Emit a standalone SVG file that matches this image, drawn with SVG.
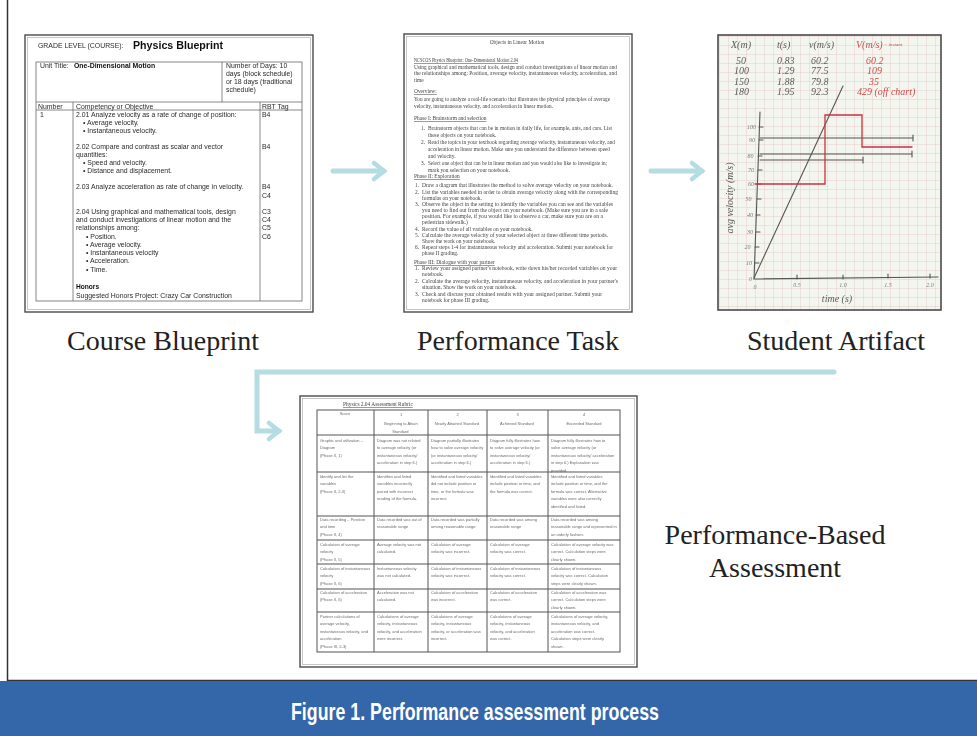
<svg xmlns="http://www.w3.org/2000/svg" width="977" height="736" viewBox="0 0 977 736">
  <style>
    .doc { fill: #ffffff; stroke: #4a4a4a; stroke-width: 1.4; }
    .docin { fill: none; stroke: #b8b8b8; stroke-width: 0.8; }
    .rule { fill: none; stroke: #6a6a6a; stroke-width: 0.8; }
    .rrule { fill: none; stroke: #555; stroke-width: 1; }
    .bp { font-family: "Liberation Sans", Arial, sans-serif; font-size: 6.9px; fill: #2a2a2a; }
    .bpb { font-family: "Liberation Sans", Arial, sans-serif; font-weight: bold; fill: #111; }
    .pt { font-family: "Liberation Serif", "Times New Roman", serif; font-size: 5.4px; fill: #444; }
    .ul { text-decoration: underline; }
    .rb { font-family: "Liberation Sans", Arial, sans-serif; font-size: 4px; fill: #6a6a6a; }
    .rbh { font-family: "Liberation Sans", Arial, sans-serif; font-size: 4px; fill: #6a6a6a; text-anchor: middle; }
    .cap { font-family: "Liberation Serif", "Times New Roman", serif; font-size: 28px; fill: #222; text-anchor: middle; }
    .hw { font-family: "Liberation Serif", serif; font-style: italic; font-size: 10px; fill: #5a5a5a; }
    .hwr { font-family: "Liberation Serif", serif; font-style: italic; font-size: 10px; fill: #d24a4a; }
    .ax { font-family: "Liberation Serif", serif; font-style: italic; font-size: 6px; fill: #7a7a7a; }
    .pen { fill: none; stroke: #555; stroke-width: 1.1; stroke-linecap: round; }
    .red { fill: none; stroke: #c8333c; stroke-width: 1.3; stroke-linecap: round; }
    .flow { fill: none; stroke: #b4dce2; stroke-width: 5; stroke-linecap: round; stroke-linejoin: miter; }
  </style>
  <defs>
    <marker id="head" markerUnits="userSpaceOnUse" markerWidth="24" markerHeight="24" viewBox="0 0 24 24" refX="15" refY="12" orient="auto">
      <path d="M5,4 L15,12 L5,20" fill="none" stroke="#b4dce2" stroke-width="4.5" stroke-linecap="round"/>
    </marker>
    <pattern id="grid" width="9" height="9" patternUnits="userSpaceOnUse" x="719" y="36">
      <rect width="9" height="9" fill="#f3f6ee"/>
      <path d="M0,0.3 H9 M0.3,0 V9" stroke="#e8cfcf" stroke-width="0.7"/>
    </pattern>
    <filter id="soft" x="-5%" y="-5%" width="110%" height="110%">
      <feGaussianBlur stdDeviation="0.3"/>
    </filter>
    <filter id="softer" x="-5%" y="-5%" width="110%" height="110%">
      <feGaussianBlur stdDeviation="0.45"/>
    </filter>
  </defs>

  <rect width="977" height="736" fill="#ffffff"/>
  <path d="M7.5,0 V680.5 H977" fill="none" stroke="#333" stroke-width="1.5"/>

  <!-- caption band -->
  <g id="caption">
    <rect x="0" y="681" width="977" height="55" fill="#3466aa"/>
    <text x="475" y="720" font-family="Liberation Sans, Arial, sans-serif" font-weight="bold" font-size="23" fill="#ffffff" text-anchor="middle" textLength="368" lengthAdjust="spacingAndGlyphs">Figure 1. Performance assessment process</text>
  </g>

  <!-- flow arrows -->
  <g id="connectors">
    <path class="flow" d="M333,171 H384" marker-end="url(#head)"/>
    <path class="flow" d="M651,171 H702" marker-end="url(#head)"/>
    <path class="flow" d="M834,372 H257 V431 H279" marker-end="url(#head)"/>
  </g>

  <!-- course blueprint page -->
  <g id="blueprint">
    <rect class="doc" x="25" y="35" width="288" height="277"/>
    <rect class="docin" x="27.5" y="37.5" width="283" height="272"/>
    <g filter="url(#soft)">
      <text x="38" y="48" class="bp" font-size="6.3">GRADE LEVEL (COURSE):</text>
      <text x="133" y="48.5" class="bpb" font-size="10" textLength="90" lengthAdjust="spacingAndGlyphs">Physics Blueprint</text>
      <rect class="rule" x="36" y="62" width="266" height="239"/>
      <path class="rule" d="M222,62 V102 M36,102 H302 M36,110 H302 M73,102 V301 M260,102 V301"/>
      <text x="40" y="67.5" class="bp">Unit Title:</text>
      <text x="74" y="67.5" class="bpb" font-size="6.9">One-Dimensional Motion</text>
      <text class="bp"><tspan x="226" y="67.5">Number of Days: 10</tspan><tspan x="226" y="75.5">days (block schedule)</tspan><tspan x="226" y="83.5">or 18 days (traditional</tspan><tspan x="226" y="91.5">schedule)</tspan></text>
      <text x="38" y="108.5" class="bp" font-size="6.5">Number</text>
      <text x="76" y="108.5" class="bp" font-size="6.5">Competency or Objective</text>
      <text x="262" y="108.5" class="bp" font-size="6.5">RBT Tag</text>
      <text x="40" y="117" class="bp">1</text>
      <text class="bp">
        <tspan x="76" y="117">2.01 Analyze velocity as a rate of change of position:</tspan>
        <tspan x="83" y="125">• Average velocity.</tspan>
        <tspan x="83" y="133">• Instantaneous velocity.</tspan>
        <tspan x="76" y="149">2.02 Compare and contrast as scalar and vector</tspan>
        <tspan x="76" y="157">quantities:</tspan>
        <tspan x="83" y="165">• Speed and velocity.</tspan>
        <tspan x="83" y="173">• Distance and displacement.</tspan>
        <tspan x="76" y="189">2.03 Analyze acceleration as rate of change in velocity.</tspan>
        <tspan x="76" y="214">2.04 Using graphical and mathematical tools, design</tspan>
        <tspan x="76" y="222">and conduct investigations of linear motion and the</tspan>
        <tspan x="76" y="230">relationships among:</tspan>
        <tspan x="86" y="239">• Position.</tspan>
        <tspan x="86" y="247">• Average velocity.</tspan>
        <tspan x="86" y="255">• Instantaneous velocity</tspan>
        <tspan x="86" y="263">• Acceleration.</tspan>
        <tspan x="86" y="272">• Time.</tspan>
      </text>
      <text x="76" y="289" class="bpb" font-size="6.6">Honors</text>
      <text x="76" y="297.5" class="bp">Suggested Honors Project: Crazy Car Construction</text>
      <text class="bp">
        <tspan x="262" y="117">B4</tspan>
        <tspan x="262" y="149">B4</tspan>
        <tspan x="262" y="189">B4</tspan>
        <tspan x="262" y="198">C4</tspan>
        <tspan x="262" y="214">C3</tspan>
        <tspan x="262" y="222">C4</tspan>
        <tspan x="262" y="230">C5</tspan>
        <tspan x="262" y="238.5">C6</tspan>
      </text>
    </g>
    <text x="163" y="350" class="cap">Course Blueprint</text>
  </g>

  <!-- performance task page -->
  <g id="performance-task">
    <rect class="doc" x="404" y="34" width="228" height="278"/>
    <rect class="docin" x="406.5" y="36.5" width="223" height="273"/>
    <g filter="url(#softer)">
      <text x="517" y="44" class="pt" font-size="7.6" text-anchor="middle">Objects in Linear Motion</text>
      <text class="pt">
        <tspan x="414" y="62" class="ul" textLength="104" lengthAdjust="spacingAndGlyphs">NCSCOS Physics Blueprint: One-Dimensional Motion 2.04</tspan>
        <tspan x="414" y="68.5" textLength="203" lengthAdjust="spacingAndGlyphs">Using graphical and mathematical tools, design and conduct investigations of linear motion and</tspan>
        <tspan x="414" y="75" textLength="203" lengthAdjust="spacingAndGlyphs">the relationships among: Position, average velocity, instantaneous velocity, acceleration, and</tspan>
        <tspan x="414" y="81.5">time</tspan>
        <tspan x="414" y="93" class="ul">Overview:</tspan>
        <tspan x="414" y="100.5" textLength="196" lengthAdjust="spacingAndGlyphs">You are going to analyze a real-life scenario that illustrates the physical principles of average</tspan>
        <tspan x="414" y="107.5" textLength="139" lengthAdjust="spacingAndGlyphs">velocity, instantaneous velocity, and acceleration in linear motion.</tspan>
        <tspan x="414" y="120" class="ul">Phase I: Brainstorm and selection</tspan>
        <tspan x="421" y="130">1.</tspan><tspan x="428" y="130" textLength="184" lengthAdjust="spacingAndGlyphs">Brainstorm objects that can be in motion in daily life, for example, ants, and cars. List</tspan>
        <tspan x="428" y="137">these objects on your notebook.</tspan>
        <tspan x="421" y="144">2.</tspan><tspan x="428" y="144" textLength="187" lengthAdjust="spacingAndGlyphs">Read the topics in your textbook regarding average velocity, instantaneous velocity, and</tspan>
        <tspan x="428" y="151" textLength="182" lengthAdjust="spacingAndGlyphs">acceleration in linear motion. Make sure you understand the difference between speed</tspan>
        <tspan x="428" y="158">and velocity.</tspan>
        <tspan x="421" y="165">3.</tspan><tspan x="428" y="165" textLength="179" lengthAdjust="spacingAndGlyphs">Select one object that can be in linear motion and you would also like to investigate in;</tspan>
        <tspan x="428" y="172">mark you selection on your notebook.</tspan>
        <tspan x="414" y="178" class="ul">Phase II: Exploration</tspan>
        <tspan x="415" y="187">1.</tspan><tspan x="422" y="187" textLength="191" lengthAdjust="spacingAndGlyphs">Draw a diagram that illustrates the method to solve average velocity on your notebook.</tspan>
        <tspan x="415" y="194">2.</tspan><tspan x="422" y="194" textLength="196" lengthAdjust="spacingAndGlyphs">List the variables needed in order to obtain average velocity along with the corresponding</tspan>
        <tspan x="422" y="200">formulas on your notebook.</tspan>
        <tspan x="415" y="206">3.</tspan><tspan x="422" y="206" textLength="191" lengthAdjust="spacingAndGlyphs">Observe the object in the setting to identify the variables you can see and the variables</tspan>
        <tspan x="422" y="212" textLength="186" lengthAdjust="spacingAndGlyphs">you need to find out from the object on your notebook. (Make sure you are in a safe</tspan>
        <tspan x="422" y="218" textLength="181" lengthAdjust="spacingAndGlyphs">position. For example, if you would like to observe a car, make sure you are on a</tspan>
        <tspan x="422" y="224">pedestrian sidewalk.)</tspan>
        <tspan x="415" y="231">4.</tspan><tspan x="422" y="231">Record the value of all variables on your notebook.</tspan>
        <tspan x="415" y="237">5.</tspan><tspan x="422" y="237" textLength="186" lengthAdjust="spacingAndGlyphs">Calculate the average velocity of your selected object at three different time periods.</tspan>
        <tspan x="422" y="243">Show the work on your notebook.</tspan>
        <tspan x="415" y="249">6.</tspan><tspan x="422" y="249" textLength="191" lengthAdjust="spacingAndGlyphs">Repeat steps 1-4 for instantaneous velocity and acceleration. Submit your notebook for</tspan>
        <tspan x="422" y="255">phase II grading.</tspan>
        <tspan x="414" y="264" class="ul">Phase III: Dialogue with your partner</tspan>
        <tspan x="415" y="270">1.</tspan><tspan x="422" y="270" textLength="195" lengthAdjust="spacingAndGlyphs">Review your assigned partner's notebook, write down his/her recorded variables on your</tspan>
        <tspan x="422" y="276">notebook.</tspan>
        <tspan x="415" y="283">2.</tspan><tspan x="422" y="283" textLength="196" lengthAdjust="spacingAndGlyphs">Calculate the average velocity, instantaneous velocity, and acceleration in your partner's</tspan>
        <tspan x="422" y="289">situation. Show the work on your notebook.</tspan>
        <tspan x="415" y="296">3.</tspan><tspan x="422" y="296" textLength="180" lengthAdjust="spacingAndGlyphs">Check and discuss your obtained results with your assigned partner. Submit your</tspan>
        <tspan x="422" y="302">notebook for phase III grading.</tspan>
      </text>
    </g>
    <text x="518" y="350" class="cap">Performance Task</text>
  </g>

  <!-- student artifact: graph paper photo -->
  <g id="student-artifact">
    <rect x="718" y="35" width="223" height="275" fill="url(#grid)" stroke="#4a4a4a" stroke-width="1.6"/>
    <g filter="url(#soft)">
      <!-- data table -->
      <text class="hw" font-size="10.5"><tspan x="731" y="48">X(m)</tspan><tspan x="777" y="48">t(s)</tspan><tspan x="809" y="48">v(m/s)</tspan></text>
      <text class="hwr" font-size="10.5"><tspan x="856" y="48">V(m/s)</tspan><tspan font-size="5" dy="-2"> = instant</tspan></text>
      <text class="hw" font-size="9">
        <tspan x="736" y="63.5">50</tspan><tspan x="777" y="63.5">0.83</tspan><tspan x="811" y="63.5">60.2</tspan>
        <tspan x="734" y="74">100</tspan><tspan x="777" y="74">1.29</tspan><tspan x="811" y="74">77.5</tspan>
        <tspan x="734" y="84.5">150</tspan><tspan x="777" y="84.5">1.88</tspan><tspan x="811" y="84.5">79.8</tspan>
        <tspan x="734" y="95">180</tspan><tspan x="777" y="95">1.95</tspan><tspan x="811" y="95">92.3</tspan>
      </text>
      <text class="hwr" font-size="9">
        <tspan x="866" y="63.5">60.2</tspan>
        <tspan x="867" y="74">109</tspan>
        <tspan x="869" y="84.5">35</tspan>
        <tspan x="857" y="95">429 (off chart)</tspan>
      </text>
      <!-- axes -->
      <path class="pen" d="M760,112 L754,279 L938,277"/>
      <path class="pen" stroke-width="0.7" d="M755,263 h4 M755,247 h4 M756,232 h4 M756,215 h4 M757,199 h4 M757,184 h4 M758,170 h4 M758,156 h4 M759,140 h4 M759,127 h4 M797,275 v4 M843,275 v4 M888,274 v4 M930,274 v4"/>
      <text class="ax" text-anchor="end">
        <tspan x="752" y="281">0</tspan><tspan x="752" y="265">10</tspan><tspan x="752" y="249">20</tspan>
        <tspan x="753" y="234">30</tspan><tspan x="753" y="217">40</tspan><tspan x="753" y="201">50</tspan>
        <tspan x="754" y="186">60</tspan><tspan x="754" y="172">70</tspan><tspan x="755" y="158">80</tspan>
        <tspan x="755" y="142">90</tspan><tspan x="756" y="129">100</tspan>
      </text>
      <text class="ax" font-size="7" text-anchor="middle">
        <tspan x="755" y="289">0</tspan><tspan x="797" y="287">0.5</tspan><tspan x="843" y="287">1.0</tspan><tspan x="888" y="287">1.5</tspan><tspan x="930" y="287">2.0</tspan>
      </text>
      <text class="hw" x="837" y="302" text-anchor="middle" font-size="12">time (s)</text>
      <text class="hw" transform="translate(733,198) rotate(-90)" text-anchor="middle" font-size="12" fill="#8a8a8a">avg velocity (m/s)</text>
      <!-- plotted lines -->
      <path class="pen" d="M754,278 L843,86"/>
      <path class="pen" d="M760,138 H913 M913,135 v6 M760,154 H912 M912,151 v6 M760,160 H863 M863,157 v6"/>
      <path class="red" d="M755,184 H825 V115 H862 V147 H912"/>
    </g>
    <text x="836" y="350" class="cap">Student Artifact</text>
  </g>

  <!-- assessment rubric page -->
  <g id="assessment">
    <rect class="doc" x="300" y="396" width="337" height="271"/>
    <rect class="docin" x="302.5" y="398.5" width="332" height="266"/>
    <g filter="url(#softer)">
      <text x="343" y="406" class="pt" font-size="5.6"><tspan class="ul">Physics 2.04 Assessment Rubric</tspan></text>
      <rect class="rrule" x="317" y="410" width="303" height="242"/>
      <path class="rrule" d="M374,410 V652 M428,410 V652 M487,410 V652 M548,410 V652 M317,435 H620 M317,472 H620 M317,516 H620 M317,540 H620 M317,564 H620 M317,589 H620 M317,612 H620"/>
      <!-- header -->
      <text class="rbh"><tspan x="345.5" y="415">Score</tspan>
        <tspan x="401" y="416">1</tspan><tspan x="401" y="425">Beginning to Attain</tspan><tspan x="401" y="432.5">Standard</tspan>
        <tspan x="457.5" y="416">2</tspan><tspan x="457.5" y="425">Nearly Attained Standard</tspan>
        <tspan x="517.5" y="416">3</tspan><tspan x="517.5" y="425">Achieved Standard</tspan>
        <tspan x="584" y="416">4</tspan><tspan x="584" y="425">Exceeded Standard</tspan>
      </text>
      <!-- row 1 -->
      <text class="rb"><tspan x="320" y="442">Graphic and utilization –</tspan><tspan x="320" dy="7.4">Diagram</tspan><tspan x="320" dy="7.4">(Phase II, 1)</tspan></text>
      <text class="rb"><tspan x="377" y="442">Diagram was not related</tspan><tspan x="377" dy="7.4">to average velocity (or</tspan><tspan x="377" dy="7.4">instantaneous velocity/</tspan><tspan x="377" dy="7.4">acceleration in step 6.)</tspan></text>
      <text class="rb"><tspan x="431" y="442">Diagram partially illustrates</tspan><tspan x="431" dy="7.4">how to solve average velocity</tspan><tspan x="431" dy="7.4">(or instantaneous velocity/</tspan><tspan x="431" dy="7.4">acceleration in step 6.)</tspan></text>
      <text class="rb"><tspan x="490" y="442">Diagram fully illustrates how</tspan><tspan x="490" dy="7.4">to solve average velocity (or</tspan><tspan x="490" dy="7.4">instantaneous velocity/</tspan><tspan x="490" dy="7.4">acceleration in step 6.)</tspan></text>
      <text class="rb"><tspan x="551" y="442">Diagram fully illustrates how to</tspan><tspan x="551" dy="7.4">solve average velocity (or</tspan><tspan x="551" dy="7.4">instantaneous velocity/ acceleration</tspan><tspan x="551" dy="7.4">in step 6.) Explanation was</tspan><tspan x="551" dy="7.4">provided.</tspan></text>
      <!-- row 2 -->
      <text class="rb"><tspan x="320" y="478">Identify and list the</tspan><tspan x="320" dy="7.4">variables</tspan><tspan x="320" dy="7.4">(Phase II, 2-3)</tspan></text>
      <text class="rb"><tspan x="377" y="478">Identifies and listed</tspan><tspan x="377" dy="7.4">variables incorrectly</tspan><tspan x="377" dy="7.4">paired with incorrect</tspan><tspan x="377" dy="7.4">reading of the formula.</tspan></text>
      <text class="rb"><tspan x="431" y="478">Identified and listed variables</tspan><tspan x="431" dy="7.4">did not include position or</tspan><tspan x="431" dy="7.4">time, or the formula was</tspan><tspan x="431" dy="7.4">incorrect.</tspan></text>
      <text class="rb"><tspan x="490" y="478">Identified and listed variables</tspan><tspan x="490" dy="7.4">include position or time, and</tspan><tspan x="490" dy="7.4">the formula was correct.</tspan></text>
      <text class="rb"><tspan x="551" y="478">Identified and listed variables</tspan><tspan x="551" dy="7.4">include position or time, and the</tspan><tspan x="551" dy="7.4">formula was correct. Alternative</tspan><tspan x="551" dy="7.4">variables were also correctly</tspan><tspan x="551" dy="7.4">identified and listed.</tspan></text>
      <!-- row 3 -->
      <text class="rb"><tspan x="320" y="521">Data recording – Position</tspan><tspan x="320" dy="7.4">and time</tspan><tspan x="320" dy="7.4">(Phase II, 4)</tspan></text>
      <text class="rb"><tspan x="377" y="521">Data recorded was out of</tspan><tspan x="377" dy="7.4">reasonable range</tspan></text>
      <text class="rb"><tspan x="431" y="521">Data recorded was partially</tspan><tspan x="431" dy="7.4">among reasonable range</tspan></text>
      <text class="rb"><tspan x="490" y="521">Data recorded was among</tspan><tspan x="490" dy="7.4">reasonable range</tspan></text>
      <text class="rb"><tspan x="551" y="521">Data recorded was among</tspan><tspan x="551" dy="7.4">reasonable range and represented in</tspan><tspan x="551" dy="7.4">an orderly fashion.</tspan></text>
      <!-- row 4 -->
      <text class="rb"><tspan x="320" y="546">Calculation of average</tspan><tspan x="320" dy="7.4">velocity</tspan><tspan x="320" dy="7.4">(Phase II, 5)</tspan></text>
      <text class="rb"><tspan x="377" y="546">Average velocity was not</tspan><tspan x="377" dy="7.4">calculated.</tspan></text>
      <text class="rb"><tspan x="431" y="546">Calculation of average</tspan><tspan x="431" dy="7.4">velocity was incorrect.</tspan></text>
      <text class="rb"><tspan x="490" y="546">Calculation of average</tspan><tspan x="490" dy="7.4">velocity was correct.</tspan></text>
      <text class="rb"><tspan x="551" y="546">Calculation of average velocity was</tspan><tspan x="551" dy="7.4">correct. Calculation steps were</tspan><tspan x="551" dy="7.4">clearly shown.</tspan></text>
      <!-- row 5 -->
      <text class="rb"><tspan x="320" y="570">Calculation of instantaneous</tspan><tspan x="320" dy="7.4">velocity</tspan><tspan x="320" dy="7.4">(Phase II, 6)</tspan></text>
      <text class="rb"><tspan x="377" y="570">Instantaneous velocity</tspan><tspan x="377" dy="7.4">was not calculated.</tspan></text>
      <text class="rb"><tspan x="431" y="570">Calculation of instantaneous</tspan><tspan x="431" dy="7.4">velocity was incorrect.</tspan></text>
      <text class="rb"><tspan x="490" y="570">Calculation of instantaneous</tspan><tspan x="490" dy="7.4">velocity was correct.</tspan></text>
      <text class="rb"><tspan x="551" y="570">Calculation of instantaneous</tspan><tspan x="551" dy="7.4">velocity was correct. Calculation</tspan><tspan x="551" dy="7.4">steps were clearly shown.</tspan></text>
      <!-- row 6 -->
      <text class="rb"><tspan x="320" y="594">Calculation of acceleration</tspan><tspan x="320" dy="7.4">(Phase II, 6)</tspan></text>
      <text class="rb"><tspan x="377" y="594">Acceleration was not</tspan><tspan x="377" dy="7.4">calculated.</tspan></text>
      <text class="rb"><tspan x="431" y="594">Calculation of acceleration</tspan><tspan x="431" dy="7.4">was incorrect.</tspan></text>
      <text class="rb"><tspan x="490" y="594">Calculation of acceleration</tspan><tspan x="490" dy="7.4">was correct.</tspan></text>
      <text class="rb"><tspan x="551" y="594">Calculation of acceleration was</tspan><tspan x="551" dy="7.4">correct. Calculation steps were</tspan><tspan x="551" dy="7.4">clearly shown.</tspan></text>
      <!-- row 7 -->
      <text class="rb"><tspan x="320" y="618">Partner calculations of</tspan><tspan x="320" dy="7.4">average velocity,</tspan><tspan x="320" dy="7.4">instantaneous velocity, and</tspan><tspan x="320" dy="7.4">acceleration</tspan><tspan x="320" dy="7.4">(Phase III, 2-3)</tspan></text>
      <text class="rb"><tspan x="377" y="618">Calculations of average</tspan><tspan x="377" dy="7.4">velocity, instantaneous</tspan><tspan x="377" dy="7.4">velocity, and acceleration</tspan><tspan x="377" dy="7.4">were incorrect.</tspan></text>
      <text class="rb"><tspan x="431" y="618">Calculations of average</tspan><tspan x="431" dy="7.4">velocity, instantaneous</tspan><tspan x="431" dy="7.4">velocity, or acceleration was</tspan><tspan x="431" dy="7.4">incorrect.</tspan></text>
      <text class="rb"><tspan x="490" y="618">Calculations of average</tspan><tspan x="490" dy="7.4">velocity, instantaneous</tspan><tspan x="490" dy="7.4">velocity, and acceleration</tspan><tspan x="490" dy="7.4">was correct.</tspan></text>
      <text class="rb"><tspan x="551" y="618">Calculations of average velocity,</tspan><tspan x="551" dy="7.4">instantaneous velocity, and</tspan><tspan x="551" dy="7.4">acceleration was correct.</tspan><tspan x="551" dy="7.4">Calculation steps were clearly</tspan><tspan x="551" dy="7.4">shown.</tspan></text>
    </g>
    <text class="cap"><tspan x="775" y="544">Performance-Based</tspan><tspan x="775" y="577">Assessment</tspan></text>
  </g>
</svg>
